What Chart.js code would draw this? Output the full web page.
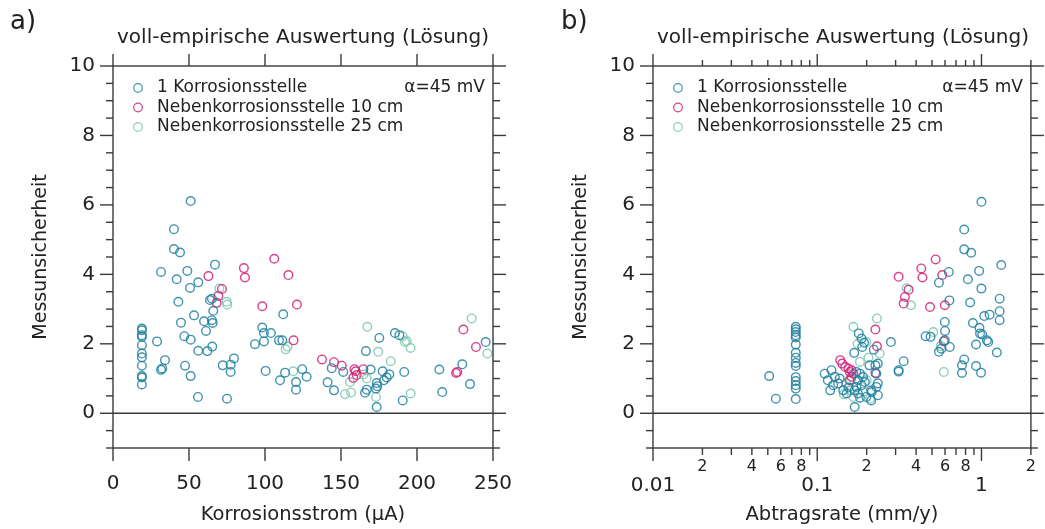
<!DOCTYPE html>
<html>
<head>
<meta charset="utf-8">
<script src="https://cdn.jsdelivr.net/npm/chart.js"></script>
<style>
  body { margin: 0; background: #fff; width: 1045px; height: 529px; position: relative; overflow: hidden;
         font-family: 'DejaVu Sans', sans-serif; color: #222; }
  .panel { position: absolute; top: 0; height: 529px; }
  .tag { position: absolute; top: 5px; font-size: 26px; z-index: 2; }
  .titel { position: absolute; top: 24px; width: 380px; text-align: center; font-size: 20px; z-index: 2; white-space: nowrap; }
</style>
</head>
<body>
<div class="panel" style="left:0;width:540px"><canvas id="graphA"></canvas></div>
<div class="panel" style="left:540px;width:505px"><canvas id="graphB"></canvas></div>
<div class="tag" style="left:10px">a)</div>
<div class="tag" style="left:561px">b)</div>
<div class="titel" style="left:113px">voll-empirische Auswertung (Lösung)</div>
<div class="titel" style="left:653px">voll-empirische Auswertung (Lösung)</div>
<script>
// Daten a) : Korrosionsstrom (µA) / Messunsicherheit
const stromK1 = [
  [19,2.44],[19,2.39],[19,2.25],[19,2.2],[19,1.96],[19,1.72],[19,1.61],[19,1.37],[19,1.07],[19,1.03],[19,0.83],
  [29,2.07],[31.6,4.07],[31.6,1.25],[32.4,1.29],[34.2,1.53],[40.1,5.3],[40.1,4.73],[44.1,4.63],[41.9,3.86],
  [48.9,4.1],[43,3.21],[44.7,2.61],[46.9,2.22],[51.1,2.12],[47.4,1.37],[51.1,1.07],[50.7,3.61],[51.1,6.11],
  [56.1,3.77],[53.3,2.82],[56.1,1.8],[55.9,0.47],[59.9,2.65],[61.2,2.37],[62.1,1.79],[65.3,1.92],[67.1,4.28],
  [63.8,3.26],[65.1,3.3],[66,2.95],[65.1,2.68],[65.6,2.6],[72.2,1.38],[77.4,1.4],[79.6,1.58],[77.4,1.19],[75,0.42],
  [93.4,1.99],[98.2,2.47],[99.3,2.31],[99.3,2.07],[103.9,2.31],[100.4,1.22],[109.2,2.1],[111.4,2.1],[112,2.85],
  [113.2,1.17],[109.9,0.95],[120.4,0.9],[120.4,0.68],[124.5,1.27],[127.4,1.05],[143.9,1.3],[141.2,0.89],
  [145.4,0.66],[151.5,1.19],[175.2,2.17],[166.4,1.79],[169.5,1.26],[165.8,0.59],[166.9,0.68],[173.5,0.87],
  [173.9,0.78],[173,0.71],[173.5,0.18],[177.4,1.21],[178.3,0.95],[180.1,1.03],[181.8,1.12],[191.6,1.19],
  [190.6,0.37],[185.5,2.31],[188.4,2.25],[214.7,1.26],[216.6,0.61],[229.8,1.41],[234.9,0.84],[245.2,2.05]
];
const stromK10 = [
  [62.8,3.95],[86.1,4.18],[86.8,3.91],[106.1,4.45],[115.4,3.98],[98.2,3.08],[121,3.13],[118.8,2.1],
  [71.7,3.58],[69.3,3.38],[68.2,3.18],[137.5,1.55],[145.4,1.47],[150.5,1.37],[158.8,1.27],[159.7,1.21],
  [158.1,1.02],[164.7,1.27],[160.3,1.1],[225.7,1.16],[226.5,1.19],[230.5,2.41],[238.8,1.91]
];
const stromK25 = [
  [70,3.59],[74.8,3.21],[75.2,3.13],[113.6,1.84],[114.9,1.92],[118.6,1.21],[152.6,0.55],[156.6,0.6],
  [155.9,0.9],[166.9,1.0],[164.7,1.12],[167.3,2.49],[174.5,1.77],[173,0.47],[182.7,1.5],[190.6,2.22],
  [192.1,2.05],[193.2,2.08],[195.8,1.88],[195.8,0.57],[236,2.73],[246.3,1.72]
];

// Daten b) : Abtragsrate (mm/y) / Messunsicherheit
const rateK1 = [
  [0.074,2.49],[0.074,2.42],[0.074,2.34],[0.074,2.25],[0.074,2.18],[0.074,1.98],[0.074,1.74],[0.074,1.6],
  [0.074,1.45],[0.074,1.36],[0.074,1.04],[0.074,0.93],[0.074,0.81],[0.074,0.71],[0.074,0.41],
  [0.051,1.07],[0.056,0.42],
  [0.111,1.14],[0.116,0.95],[0.122,1.24],[0.12,0.66],[0.128,1.05],[0.134,0.86],[0.125,0.81],[0.137,1.0],
  [0.144,0.66],[0.151,0.57],[0.155,0.74],
  [0.179,2.3],[0.186,2.15],[0.193,2.03],[0.188,1.91],[0.168,1.74],[0.281,2.05],[0.226,1.38],
  [0.173,1.19],[0.182,1.14],[0.19,1.05],[0.177,0.95],[0.186,0.81],[0.173,0.76],[0.195,0.9],[0.169,0.66],
  [0.177,0.57],[0.182,0.45],[0.169,0.18],[0.199,0.47],[0.213,0.66],[0.229,0.76],[0.234,0.52],[0.213,0.37],
  [0.234,0.86],[0.221,1.83],[0.208,1.38],[0.234,1.43],[0.229,1.14],[0.215,0.61],[0.336,1.5],[0.313,1.24],[0.313,1.2],
  [1.0,6.09],[0.785,5.29],[0.785,4.72],[0.866,4.62],[1.32,4.27],[0.968,4.1],[0.633,4.07],[0.551,3.76],
  [0.827,3.86],[0.999,3.59],[0.638,3.25],[0.854,3.19],[1.29,3.3],[1.29,2.94],[1.04,2.8],[1.12,2.84],
  [1.29,2.68],[0.887,2.6],[0.972,2.46],[0.98,2.3],[1.01,2.27],[0.927,1.98],[1.1,2.05],[1.08,2.1],[1.24,1.75],
  [0.785,1.55],[0.761,1.38],[0.761,1.16],[0.927,1.36],[0.994,1.17],[0.598,2.63],[0.6,2.37],[0.598,2.1],
  [0.641,1.91],[0.551,1.77],[0.57,1.86],[0.457,2.22],[0.49,2.2]
];
const rateK10 = [
  [0.526,4.43],[0.43,4.17],[0.437,3.91],[0.577,3.98],[0.313,3.93],[0.36,3.56],[0.342,3.35],[0.336,3.16],
  [0.486,3.06],[0.598,3.11],[0.59,2.07],[0.226,2.41],[0.231,1.93],[0.226,1.16],[0.138,1.53],[0.142,1.43],
  [0.148,1.33],[0.155,1.29],[0.162,1.24],[0.166,1.14],[0.158,1.19],[0.162,1.05],[0.157,0.95]
];
const rateK25 = [
  [0.35,3.6],[0.372,3.11],[0.509,2.34],[0.566,1.94],[0.59,1.19],[0.231,2.73],[0.24,1.72],[0.166,2.49],
  [0.182,1.48],[0.15,0.86],[0.158,0.66],[0.166,0.47],[0.199,2.05],[0.2,0.95],[0.145,0.55],[0.19,0.62],
  [0.176,2.0],[0.205,1.6],[0.16,0.95],[0.21,0.42]
];

const serien = ['1 Korrosionsstelle', 'Nebenkorrosionsstelle 10 cm', 'Nebenkorrosionsstelle 25 cm'];
const farben = ['rgba(30,128,160,0.85)', 'rgba(212,30,120,0.85)', 'rgba(132,202,178,0.9)'];

// Achsen
const yMajor = [0, 2, 4, 6, 8, 10];
const yMinor = [-1, -0.5, 0.5, 1, 1.5, 2.5, 3, 3.5, 4.5, 5, 5.5, 6.5, 7, 7.5, 8.5, 9, 9.5];
const xMajorA = [0, 50, 100, 150, 200, 250];
const xMajorB = [0.01, 0.1, 1];
const xMinorB = [0.02, 0.03, 0.04, 0.05, 0.06, 0.07, 0.08, 0.09, 0.2, 0.3, 0.4, 0.5, 0.6, 0.7, 0.8, 0.9, 2];
const xMinorLabelB = [0.02, 0.04, 0.06, 0.08, 0.2, 0.4, 0.6, 0.8, 2];

const schrift = "'DejaVu Sans', sans-serif";
const achsenFarbe = '#3a3a3a';

function strich(ctx, x1, y1, x2, y2) {
    ctx.beginPath();
    ctx.moveTo(x1, y1);
    ctx.lineTo(x2, y2);
    ctx.stroke();
}

// Rahmen mit Ticks aussen, Nulllinie und Legende
const rahmen = {
    id: 'rahmen',
    beforeDatasetsDraw(chart) {
        const { ctx, chartArea: a, scales: { y } } = chart;
        const y0 = y.getPixelForValue(0);
        ctx.save();
        ctx.strokeStyle = achsenFarbe;
        ctx.lineWidth = 1.4;
        strich(ctx, a.left, y0, a.right, y0);
        ctx.restore();
    },
    afterDatasetsDraw(chart, args, opts) {
        const { ctx, chartArea: a, scales: { x, y } } = chart;
        ctx.save();
        ctx.strokeStyle = achsenFarbe;
        ctx.lineWidth = 1.4;
        ctx.strokeRect(a.left, a.top, a.right - a.left, a.bottom - a.top);
        opts.xMajor.forEach(v => {
            const p = x.getPixelForValue(v);
            strich(ctx, p, a.bottom, p, a.bottom + 13);
            strich(ctx, p, a.top, p, a.top - 12);
        });
        opts.xMinor.forEach(v => {
            const p = x.getPixelForValue(v);
            strich(ctx, p, a.bottom, p, a.bottom + 7);
            strich(ctx, p, a.top, p, a.top - 6);
        });
        yMajor.forEach(v => {
            const p = y.getPixelForValue(v);
            strich(ctx, a.left - 13, p, a.left, p);
            strich(ctx, a.right, p, a.right + 13, p);
        });
        yMinor.forEach(v => {
            const p = y.getPixelForValue(v);
            strich(ctx, a.left - 7, p, a.left, p);
            strich(ctx, a.right, p, a.right + 7, p);
        });

        // Legende
        ctx.font = '17px ' + schrift;
        ctx.textBaseline = 'middle';
        ctx.lineWidth = 1.2;
        chart.data.datasets.forEach((ds, i) => {
            const ly = a.top + 22 + i * 19.5;
            ctx.strokeStyle = ds.borderColor;
            ctx.beginPath();
            ctx.arc(a.left + 25, ly, 4.3, 0, Math.PI * 2);
            ctx.stroke();
            ctx.fillStyle = '#222';
            ctx.textAlign = 'left';
            ctx.fillText(ds.label, a.left + 44, ly);
        });
        ctx.textAlign = 'right';
        ctx.fillText('\u03b1=45 mV', a.right - 8, a.top + 22);
        ctx.restore();
    }
};

function datensaetze(listen) {
    return listen.map((liste, i) => ({
        label: serien[i],
        data: liste.map(p => ({ x: p[0], y: p[1] })),
        borderColor: farben[i],
        backgroundColor: 'rgba(0,0,0,0)',
        pointRadius: 4.3,
        pointBorderWidth: 1.4,
        pointHoverRadius: 4.3
    }));
}

function yAchse() {
    return {
        type: 'linear',
        position: 'left',
        min: -1,
        max: 10,
        afterBuildTicks: s => { s.ticks = yMajor.map(v => ({ value: v })); },
        afterFit: s => { s.width = 113; },
        grid: { display: false, drawTicks: false },
        border: { display: false },
        ticks: { padding: 18, color: '#222', font: { family: schrift, size: 20 } },
        title: { display: true, text: 'Messunsicherheit', color: '#222',
                 font: { family: schrift, size: 19 }, padding: { top: 30, bottom: 0 } }
    };
}

const gemeinsam = {
    responsive: true,
    maintainAspectRatio: false,
    animation: false,
    events: [],
    plugins: { legend: { display: false }, tooltip: { enabled: false } }
};

// Graphik a)
new Chart(document.getElementById('graphA'), {
    type: 'scatter',
    data: { datasets: datensaetze([stromK1, stromK10, stromK25]) },
    plugins: [rahmen],
    options: {
        ...gemeinsam,
        layout: { padding: { top: 66, right: 47, left: 0, bottom: 0 } },
        plugins: { ...gemeinsam.plugins, rahmen: { xMajor: xMajorA, xMinor: [] } },
        scales: {
            x: {
                type: 'linear',
                position: 'bottom',
                min: 0,
                max: 250,
                afterBuildTicks: s => { s.ticks = xMajorA.map(v => ({ value: v })); },
                afterFit: s => { s.height = 81; },
                grid: { display: false, drawTicks: false },
                border: { display: false },
                ticks: { padding: 24, color: '#222', maxRotation: 0, autoSkip: false,
                         font: { family: schrift, size: 20 } },
                title: { display: true, text: 'Korrosionsstrom (\u00b5A)', color: '#222',
                         font: { family: schrift, size: 19.5 }, padding: { top: 0, bottom: 2 } }
            },
            y: yAchse()
        }
    }
});

// Graphik b)
new Chart(document.getElementById('graphB'), {
    type: 'scatter',
    data: { datasets: datensaetze([rateK1, rateK10, rateK25]) },
    plugins: [rahmen],
    options: {
        ...gemeinsam,
        layout: { padding: { top: 66, right: 12, left: 0, bottom: 0 } },
        plugins: { ...gemeinsam.plugins, rahmen: { xMajor: xMajorB, xMinor: xMinorB } },
        scales: {
            x: {
                type: 'logarithmic',
                position: 'bottom',
                min: 0.01,
                max: 2,
                afterBuildTicks: s => {
                    s.ticks = xMajorB.concat(xMinorB).sort((p, q) => p - q)
                        .map(v => ({ value: v, major: xMajorB.includes(v) }));
                },
                afterFit: s => { s.height = 81; },
                grid: { display: false, drawTicks: false },
                border: { display: false },
                ticks: {
                    padding: 9,
                    color: '#222',
                    maxRotation: 0,
                    minRotation: 0,
                    autoSkip: false,
                    callback: v => {
                        if (xMajorB.includes(v)) return ['', String(v)];
                        if (xMinorLabelB.includes(v)) return String(v).replace(/^0\.0?/, '');
                        return '';
                    },
                    font: c => (c.tick && c.tick.major)
                        ? { family: schrift, size: 20, lineHeight: 0.95 }
                        : { family: schrift, size: 16, lineHeight: 1.2 }
                },
                title: { display: true, text: 'Abtragsrate (mm/y)', color: '#222',
                         font: { family: schrift, size: 19.5 }, padding: { top: 0, bottom: 2 } }
            },
            y: yAchse()
        }
    }
});
</script>
</body>
</html>
